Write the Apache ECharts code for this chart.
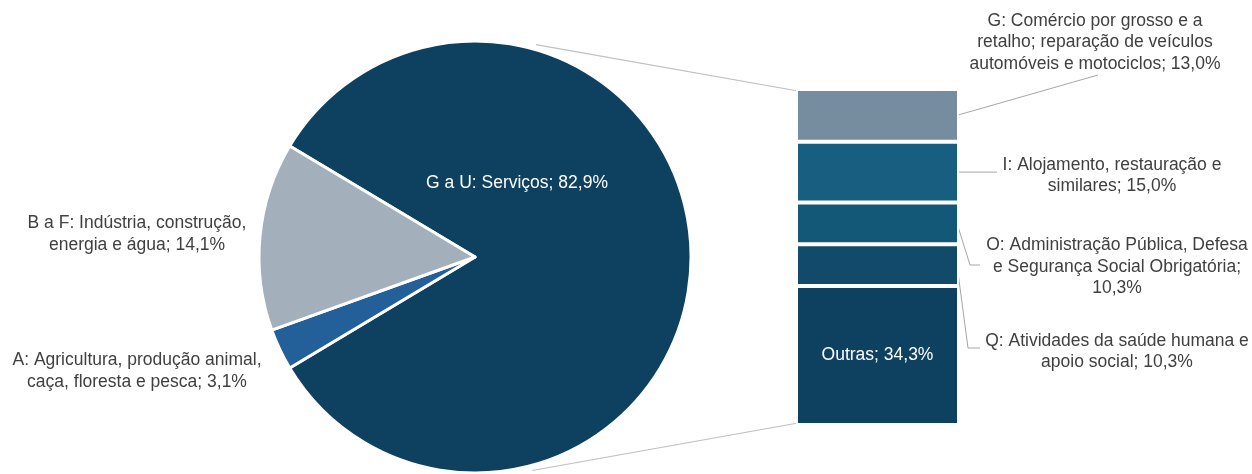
<!DOCTYPE html>
<html>
<head>
<meta charset="utf-8">
<script src="https://cdn.jsdelivr.net/npm/echarts@6/dist/echarts.min.js"></script>
<style>
  html, body { margin: 0; padding: 0; background: #fff; }
  #chart { width: 1252px; height: 474px; }
</style>
</head>
<body>
<div id="chart"></div>
<script>
// Economic sectors, share of the total (%)
const pieNames = ['G a U: Serviços', 'A: Agricultura, produção animal,\ncaça, floresta e pesca', 'B a F: Indústria, construção,\nenergia e água'];
const pieValues = [82.9, 3.1, 14.1];
const pieColors = ['#0e4160', '#235f99', '#a3afba'];

// Services broken down by section, listed top to bottom of the column (%)
const barNames = [
  'G: Comércio por grosso e a\nretalho; reparação de veículos\nautomóveis e motociclos',
  'I: Alojamento, restauração e\nsimilares',
  'O: Administração Pública, Defesa\ne Segurança Social Obrigatória',
  'Q: Atividades da saúde humana e\napoio social',
  'Outras'
];
const barValues = [13.0, 15.0, 10.3, 10.3, 34.3];
const barSeparators = ['; ', '; ', ';\n', '; ', '; '];
const barColors = ['#768c9f', '#175e80', '#145878', '#114b69', '#0e4160'];

const fmt = v => v.toFixed(1).replace('.', ',') + '%';
const FONT = '"Liberation Sans", Arial, sans-serif';
const FONT_SIZE = 17.5;
const TEXT = '#404040';

// layout
const PIE_C = [475, 257];
const PIE_R = 216;
const G_LEFT = 796, G_RIGHT = 959, G_TOP = 89, G_BOTTOM = 425, BORDER = 2;

const pieTotal = pieValues.reduce((a, b) => a + b, 0);
const barTotal = barValues.reduce((a, b) => a + b, 0);
// first slice centred on the right-hand side
const startAngle = 360 * pieValues[0] / pieTotal / 2;

const pieLabelPos = [[517, 183], [137, 371], [137, 234]];

const chart = echarts.init(document.getElementById('chart'), null, { renderer: 'canvas' });

// stacked column: series are stacked bottom-up, so go through the list in reverse
const barSeries = [];
for (let i = barValues.length - 1; i >= 0; i--) {
  const isLast = i === barValues.length - 1;
  barSeries.push({
    type: 'bar',
    name: barNames[i],
    stack: 'services',
    barWidth: '100%',
    data: [barValues[i]],
    itemStyle: { color: barColors[i], borderColor: '#ffffff', borderWidth: BORDER },
    label: {
      show: isLast,
      position: 'inside',
      formatter: () => barNames[i] + barSeparators[i] + fmt(barValues[i]),
      color: '#ffffff',
      fontFamily: FONT,
      fontSize: FONT_SIZE
    },
    emphasis: { disabled: true },
    silent: true
  });
}

chart.setOption({
  animation: false,
  backgroundColor: '#ffffff',
  grid: { left: G_LEFT, top: G_TOP, width: G_RIGHT - G_LEFT, height: G_BOTTOM - G_TOP, containLabel: false },
  xAxis: { type: 'category', data: [''], show: false },
  yAxis: { type: 'value', min: 0, max: barTotal, show: false },
  series: [
    {
      type: 'pie',
      center: PIE_C,
      radius: PIE_R,
      startAngle: startAngle,
      clockwise: true,
      silent: true,
      emphasis: { disabled: true },
      itemStyle: { borderColor: '#ffffff', borderWidth: 3 },
      label: {
        show: true,
        position: 'inside',
        overflow: 'none',
        formatter: p => pieNames[p.dataIndex] + '; ' + fmt(pieValues[p.dataIndex]),
        color: TEXT,
        fontFamily: FONT,
        fontSize: FONT_SIZE,
        lineHeight: 21.5,
        align: 'center'
      },
      labelLine: { show: false },
      labelLayout: p => ({
        x: pieLabelPos[p.dataIndex][0],
        y: pieLabelPos[p.dataIndex][1],
        align: 'center',
        verticalAlign: 'middle'
      }),
      data: pieValues.map((v, i) => ({
        value: v,
        name: pieNames[i],
        itemStyle: { color: pieColors[i] },
        label: { color: i === 0 ? '#ffffff' : TEXT }
      }))
    },
    ...barSeries
  ]
});

// leader lines and labels for the column, positioned from the value axis
const yPix = v => chart.convertToPixel({ yAxisIndex: 0 }, v);
const barRight = G_RIGHT - BORDER;
const barLeft = G_LEFT + BORDER;
const mids = [];
let acc = barTotal;
barValues.forEach(v => { mids.push(yPix(acc - v / 2)); acc -= v; });

const labelCenters = [[1095, 42.5], [1112, 175.5], [1117, 267], [1117, 351.5]];
const leaderPaths = [
  [[barRight, mids[0]], [1098, 75]],
  [[barRight, mids[1]], [997, mids[1]]],
  [[barRight, mids[2]], [970, 265], [980, 265]],
  [[barRight, mids[3]], [968, 348], [980, 348]]
];

const graphics = [];
for (let i = 0; i < 4; i++) {
  graphics.push({
    type: 'polyline',
    silent: true,
    shape: { points: leaderPaths[i] },
    style: { stroke: '#a6a6a6', lineWidth: 1, fill: null }
  });
  graphics.push({
    type: 'text',
    silent: true,
    x: labelCenters[i][0],
    y: labelCenters[i][1],
    style: {
      text: barNames[i] + barSeparators[i] + fmt(barValues[i]),
      align: 'center',
      verticalAlign: 'middle',
      fill: TEXT,
      font: FONT_SIZE + 'px ' + FONT,
      lineHeight: 21.5
    }
  });
}

// connectors from the pie to the top and bottom of the column
const rad = a => a * Math.PI / 180;
const edge = (deg) => [PIE_C[0] + (PIE_R + 5) * Math.cos(rad(deg)), PIE_C[1] - (PIE_R + 5) * Math.sin(rad(deg))];
graphics.push({
  type: 'line', silent: true,
  shape: { x1: edge(74)[0], y1: edge(74)[1], x2: barLeft, y2: yPix(barTotal) + BORDER },
  style: { stroke: '#bfbfbf', lineWidth: 1.2 }
});
graphics.push({
  type: 'line', silent: true,
  shape: { x1: edge(-75)[0], y1: edge(-75)[1], x2: barLeft, y2: yPix(0) - BORDER },
  style: { stroke: '#bfbfbf', lineWidth: 1.2 }
});

chart.setOption({ graphic: graphics });
</script>
</body>
</html>
